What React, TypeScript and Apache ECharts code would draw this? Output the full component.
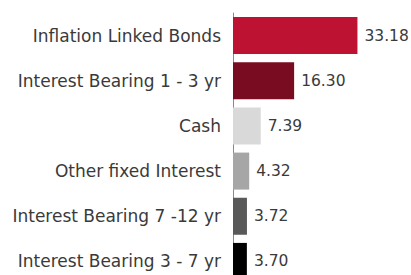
import React, { useEffect, useRef } from "react";
import * as echarts from "echarts";

const categories = [
  "Inflation Linked Bonds",
  "Interest Bearing 1 - 3 yr",
  "Cash",
  "Other fixed Interest",
  "Interest Bearing 7 -12 yr",
  "Interest Bearing 3 - 7 yr",
];
const values = [33.18, 16.3, 7.39, 4.32, 3.72, 3.7];
const colors = ["#BE1233", "#7A0C22", "#D9D9D9", "#A6A6A6", "#595959", "#000000"];

export default function App() {
  const ref = useRef<HTMLDivElement>(null);
  useEffect(() => {
    if (!ref.current) return;
    const chart = echarts.init(ref.current, null, { renderer: "svg" });
    chart.setOption({
      animation: false,
      grid: { left: 233, top: 13, width: 150, height: 271, containLabel: false },
      xAxis: {
        type: "value",
        min: 0,
        max: 40,
        show: false,
      },
      yAxis: {
        type: "category",
        data: categories,
        inverse: true,
        axisLine: { show: true, lineStyle: { color: "#8a8a8a", width: 1 } },
        axisTick: { show: false },
        axisLabel: {
          color: "#3a3a3a",
          fontSize: 17,
          fontFamily: "DejaVu Sans",
          margin: 12,
        },
      },
      series: [
        {
          type: "bar",
          barWidth: 37,
          data: values.map((v, i) => ({ value: v, itemStyle: { color: colors[i] } })),
          label: {
            show: true,
            position: "right",
            distance: 7,
            color: "#3a3a3a",
            fontSize: 15.5,
            fontFamily: "DejaVu Sans",
            formatter: (p: any) => p.value.toFixed(2),
          },
        },
      ],
    });
    return () => chart.dispose();
  }, []);
  return (
    <div
      ref={ref}
      style={{ position: "absolute", left: 0, top: 0, width: 411, height: 300, background: "#fff" }}
    />
  );
}
